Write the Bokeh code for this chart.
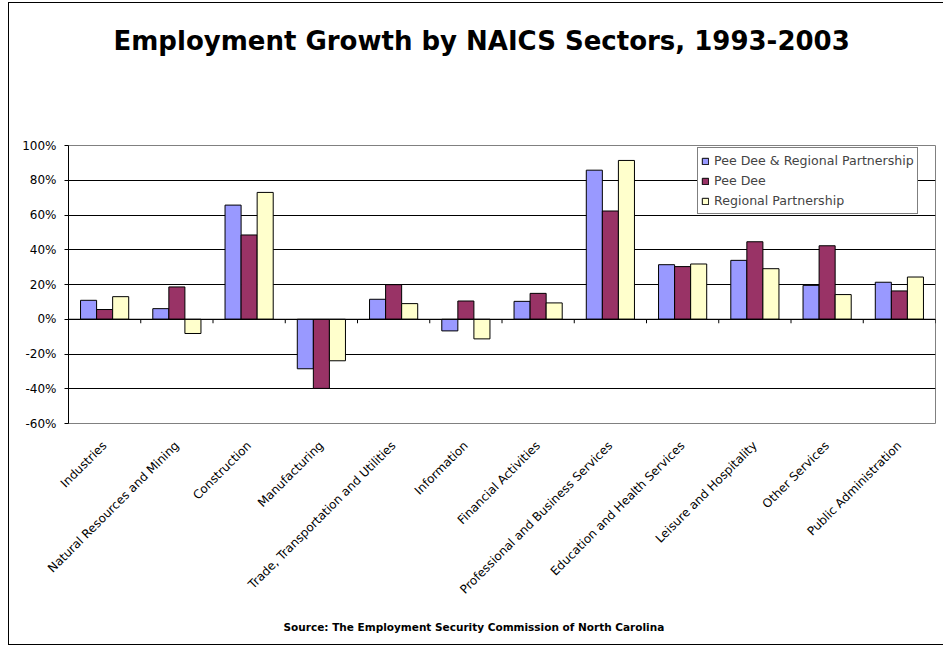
import math
from bokeh.plotting import figure
from bokeh.models import (FactorRange, ColumnDataSource, Legend, LegendItem, Title,
                          FixedTicker, PrintfTickFormatter, Range1d)
from bokeh.transform import dodge
from bokeh.embed import file_html
from bokeh.resources import INLINE

# ---------------- data ----------------
categories = ["Industries", "Natural Resources and Mining", "Construction", "Manufacturing",
              "Trade, Transportation and Utilities", "Information", "Financial Activities",
              "Professional and Business Services", "Education and Health Services",
              "Leisure and Hospitality", "Other Services", "Public Administration"]
pee_dee_regional = [10.9, 6.1, 65.7, -28.5, 11.5, -6.7, 10.3, 85.8, 31.4, 33.9, 19.5, 21.3]
pee_dee = [5.6, 18.6, 48.5, -39.8, 19.9, 10.5, 14.9, 62.3, 30.3, 44.6, 42.3, 16.3]
regional = [13.0, -8.2, 73.0, -23.9, 9.0, -11.3, 9.4, 91.4, 31.8, 29.1, 14.2, 24.3]
series_names = ["Pee Dee & Regional Partnership", "Pee Dee", "Regional Partnership"]
series_colors = ["#9999FF", "#993366", "#FFFFCC"]
y_ticks = [-60, -40, -20, 0, 20, 40, 60, 80, 100]
title_text = "Employment Growth by NAICS Sectors, 1993-2003"
source_text = "Source: The Employment Security Commission of North Carolina"

FONT = "DejaVu Sans"

src = ColumnDataSource(dict(cat=categories, a=pee_dee_regional, b=pee_dee, c=regional,
                            zero=[0] * len(categories)))

p = figure(width=935, height=643, x_range=FactorRange(factors=categories),
           y_range=Range1d(y_ticks[0], y_ticks[-1]),
           output_backend="svg", toolbar_location=None,
           min_border_left=59, min_border_right=9, min_border_top=142, min_border_bottom=223,
           title=None)
p.styles = {"margin-left": "8px", "margin-top": "2px",
            "border-left": "1px solid black", "border-top": "1px solid black",
            "border-bottom": "1px solid black"}
p.background_fill_color = "white"
p.border_fill_color = "white"
p.outline_line_color = "#808080"
p.outline_line_width = 1

# blank spacer between the frame and the title (white on white), then the title
spacer = Title(text=" ", align="left", vertical_align="top", standoff=56, text_font=FONT,
               text_font_size="26px", text_font_style="bold", text_color="white")
p.add_layout(spacer, "above")
main_title = Title(text=title_text, align="left", offset=45, vertical_align="top", standoff=0,
                   text_font=FONT, text_font_size="26px", text_font_style="bold",
                   text_color="black")
p.add_layout(main_title, "above")

# grid
p.xgrid.grid_line_color = None
p.ygrid.ticker = FixedTicker(ticks=y_ticks)
p.ygrid.grid_line_color = "black"
p.ygrid.grid_line_width = 1

# y axis
p.yaxis.ticker = FixedTicker(ticks=y_ticks)
p.yaxis.formatter = PrintfTickFormatter(format="%d%%")
p.yaxis.axis_line_color = "black"
p.yaxis.major_tick_line_color = "black"
p.yaxis.major_tick_in = 0
p.yaxis.major_tick_out = 4
p.yaxis.minor_tick_line_color = None
p.yaxis.major_label_text_font = FONT
p.yaxis.major_label_text_font_size = "12px"
p.yaxis.major_label_text_color = "black"
p.yaxis.major_label_standoff = 8

# x axis (labels only at bottom)
p.xaxis.axis_line_color = None
p.xaxis.major_tick_line_color = None
p.xaxis.major_tick_out = 0
p.xaxis.major_tick_in = 0
p.xaxis.major_label_orientation = math.pi / 4
p.xaxis.major_label_text_font = FONT
p.xaxis.major_label_text_font_size = "12px"
p.xaxis.major_label_text_color = "black"
p.xaxis.major_label_standoff = 20

# bars
w = 1 / 4.5
offsets = [-w, 0, w]
renderers = []
for col, off, color in zip(["a", "b", "c"], offsets, series_colors):
    r = p.vbar(x=dodge("cat", off, range=p.x_range), top=col, bottom=0, width=w, source=src,
               fill_color=color, line_color="black", line_width=1)
    renderers.append(r)

# zero axis line and category boundary ticks
tick_len = 4 * (y_ticks[-1] - y_ticks[0]) / 278
p.segment(x0=dodge("cat", -0.5, range=p.x_range), x1=dodge("cat", 0.5, range=p.x_range),
          y0="zero", y1="zero", source=src, line_color="black", line_width=1)
p.segment(x0=dodge("cat", 0.5, range=p.x_range), x1=dodge("cat", 0.5, range=p.x_range),
          y0=0, y1=-tick_len, source=src, line_color="black", line_width=1)

legend = Legend(items=[LegendItem(label=n, renderers=[r]) for n, r in zip(series_names, renderers)],
                location=(629, 209), label_text_font=FONT, label_text_font_size="12.6px",
                glyph_width=8, glyph_height=8, label_height=19, spacing=1, padding=3, margin=0,
                label_standoff=5, border_line_color="black", border_line_width=1,
                background_fill_color="white", background_fill_alpha=1)
p.add_layout(legend)

source_title = Title(text=source_text, align="left", offset=215, standoff=28, text_font=FONT,
                     text_font_size="10.5px", text_font_style="bold", text_color="black")
p.add_layout(source_title, "below")

open("out.html", "w").write(file_html(p, INLINE))
